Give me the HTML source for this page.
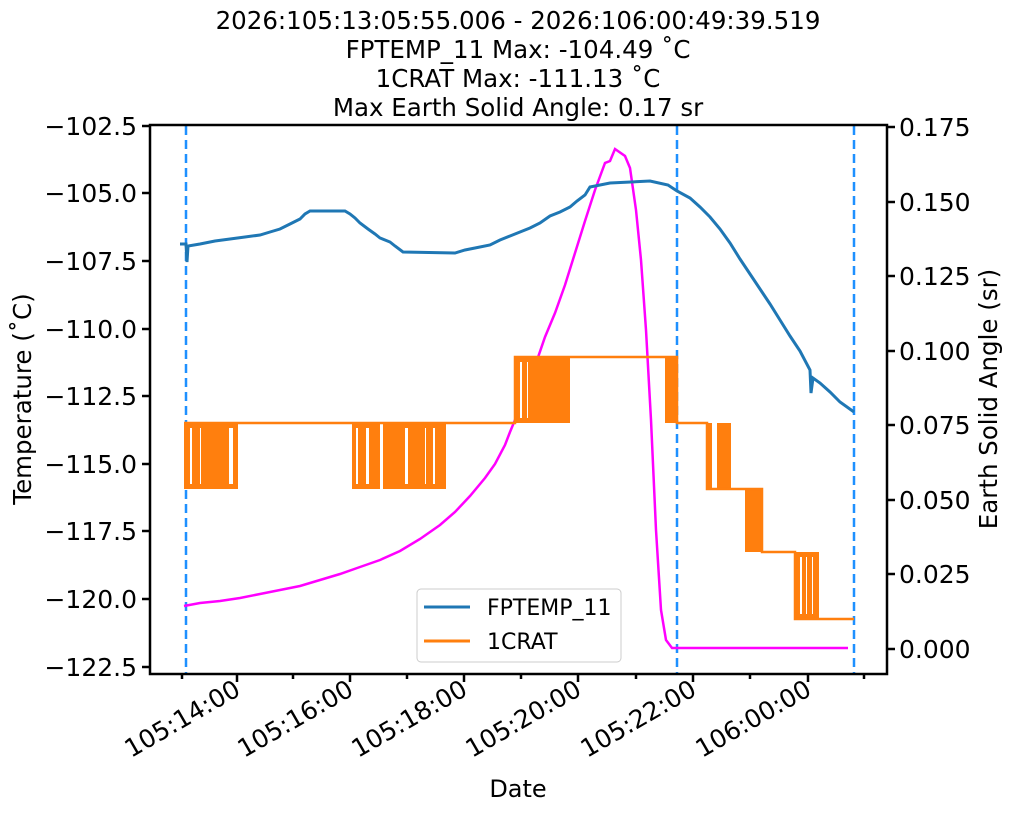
<!DOCTYPE html>
<html><head><meta charset="utf-8"><style>
body{margin:0;background:#fff}
svg text{font-family:"DejaVu Sans","Liberation Sans",sans-serif;fill:#000}
</style></head><body>
<svg width="1011" height="811" viewBox="0 0 1011 811" xmlns="http://www.w3.org/2000/svg">
<g font-size="24.5" text-anchor="middle">
<text x="518" y="29">2026:105:13:05:55.006 - 2026:106:00:49:39.519</text>
<text x="518" y="58">FPTEMP_11 Max: -104.49 ˚C</text>
<text x="518" y="87">1CRAT Max: -111.13 ˚C</text>
<text x="518" y="116">Max Earth Solid Angle: 0.17 sr</text>
</g>
<g stroke="#1e90ff" stroke-width="2.5" stroke-dasharray="9,5">
<line x1="186" y1="126" x2="186" y2="674"/>
<line x1="677" y1="126" x2="677" y2="674"/>
<line x1="854" y1="126" x2="854" y2="674"/>
</g>
<polyline fill="none" stroke="#ff00ff" stroke-width="2.5" points="184,606 200,603 220,601 240,598 260,594 280,590 300,586 320,580 340,574 360,567 380,560 400,551 420,539 440,525 455,512 470,496 485,478 495,464 505,445 510,432 515,420 520,403 528,383 535,366 545,337 555,313 565,285 575,253 585,221 595,190 605,163 610,161 615,149 625,156 630,168 636,210 641,260 646,330 651,420 656,530 661,610 666,640 672,648 848,648"/>
<polyline fill="none" stroke="#1f77b4" stroke-width="3" points="180,244 186,244 187,262 188,246 200,244 215,241 230,239 245,237 260,235 270,232 280,229 290,224 300,219 305,214 310,211 345,211 350,214 355,218 360,223 368,229 375,234 380,238 390,242 395,246 403,252 455,253 465,250 475,248 490,245 500,240 510,236 520,232 530,228 540,223 550,216 560,212 570,207 577,201 585,195 590,187 610,183 650,181 668,185 677,191 690,198 700,207 710,217 720,229 730,243 740,259 750,274 760,289 770,304 780,320 790,336 800,351 810,370 811,393 813,378 820,383 830,392 840,402 854,412"/>
<g fill="#ff7f0e">
<rect x="184" y="423" width="54" height="66"/>
<rect x="352" y="423" width="28" height="66"/>
<rect x="383" y="423" width="63" height="66"/>
<rect x="515" y="357" width="55" height="66"/>
<rect x="665" y="357" width="12" height="66"/>
<rect x="707" y="423" width="5" height="66"/>
<rect x="717" y="423" width="14" height="66"/>
<rect x="745" y="489" width="17" height="63"/>
<rect x="795" y="552" width="24" height="67"/>
</g>
<g fill="#fff">
<rect x="190" y="428" width="2" height="56"/><rect x="200" y="428" width="1" height="56"/><rect x="229" y="428" width="4" height="56"/>
<rect x="356" y="428" width="2" height="56"/><rect x="366" y="428" width="3" height="56"/><rect x="405" y="428" width="3" height="56"/><rect x="425" y="428" width="1" height="56"/><rect x="433" y="428" width="2" height="56"/>
<rect x="520" y="362" width="2" height="56"/><rect x="527" y="362" width="1" height="56"/>
<rect x="800" y="557" width="2" height="57"/><rect x="806" y="557" width="1" height="57"/><rect x="812" y="557" width="1" height="57"/>
</g>
<polyline fill="none" stroke="#ff7f0e" stroke-width="2.5" points="184,423 515,423 515,357 677,357 677,423 707,423 707,489 762,489 762,552 795,552 795,619 854,619"/>
<rect x="150" y="125" width="737" height="549" fill="none" stroke="#000" stroke-width="2.5"/>
<g stroke="#000" stroke-width="2.5">
<line x1="142" y1="126" x2="150" y2="126"/><line x1="142" y1="193" x2="150" y2="193"/><line x1="142" y1="261" x2="150" y2="261"/><line x1="142" y1="329" x2="150" y2="329"/><line x1="142" y1="396" x2="150" y2="396"/><line x1="142" y1="464" x2="150" y2="464"/><line x1="142" y1="531" x2="150" y2="531"/><line x1="142" y1="599" x2="150" y2="599"/><line x1="142" y1="667" x2="150" y2="667"/>
<line x1="887" y1="127" x2="895" y2="127"/><line x1="887" y1="202" x2="895" y2="202"/><line x1="887" y1="276" x2="895" y2="276"/><line x1="887" y1="351" x2="895" y2="351"/><line x1="887" y1="425" x2="895" y2="425"/><line x1="887" y1="500" x2="895" y2="500"/><line x1="887" y1="574" x2="895" y2="574"/><line x1="887" y1="649" x2="895" y2="649"/>
<line x1="237" y1="674" x2="237" y2="682"/><line x1="350" y1="674" x2="350" y2="682"/><line x1="464" y1="674" x2="464" y2="682"/><line x1="578" y1="674" x2="578" y2="682"/><line x1="693" y1="674" x2="693" y2="682"/><line x1="808" y1="674" x2="808" y2="682"/>
<line x1="182" y1="674" x2="182" y2="679"/><line x1="293" y1="674" x2="293" y2="679"/><line x1="407" y1="674" x2="407" y2="679"/><line x1="521" y1="674" x2="521" y2="679"/><line x1="636" y1="674" x2="636" y2="679"/><line x1="750" y1="674" x2="750" y2="679"/><line x1="864" y1="674" x2="864" y2="679"/>
</g>
<g font-size="25" text-anchor="end">
<text x="137" y="135">−102.5</text><text x="137" y="202">−105.0</text><text x="137" y="270">−107.5</text><text x="137" y="338">−110.0</text><text x="137" y="405">−112.5</text><text x="137" y="473">−115.0</text><text x="137" y="540">−117.5</text><text x="137" y="608">−120.0</text><text x="137" y="676">−122.5</text>
</g>
<g font-size="25">
<text x="899" y="136">0.175</text><text x="899" y="211">0.150</text><text x="899" y="285">0.125</text><text x="899" y="360">0.100</text><text x="899" y="434">0.075</text><text x="899" y="509">0.050</text><text x="899" y="583">0.025</text><text x="899" y="658">0.000</text>
</g>
<g font-size="25" text-anchor="end">
<text transform="translate(242,694) rotate(-30)">105:14:00</text>
<text transform="translate(355,694) rotate(-30)">105:16:00</text>
<text transform="translate(469,694) rotate(-30)">105:18:00</text>
<text transform="translate(583,694) rotate(-30)">105:20:00</text>
<text transform="translate(698,694) rotate(-30)">105:22:00</text>
<text transform="translate(813,694) rotate(-30)">106:00:00</text>
</g>
<text x="518" y="797" font-size="24" text-anchor="middle">Date</text>
<text transform="translate(31,399) rotate(-90)" font-size="24.5" text-anchor="middle">Temperature (˚C)</text>
<text transform="translate(997,399) rotate(-90)" font-size="24.5" text-anchor="middle">Earth Solid Angle (sr)</text>
<rect x="417" y="589" width="204" height="73" rx="4" fill="#fff" fill-opacity="0.8" stroke="#ccc"/>
<line x1="424" y1="607" x2="470" y2="607" stroke="#1f77b4" stroke-width="3"/>
<line x1="424" y1="641" x2="470" y2="641" stroke="#ff7f0e" stroke-width="3"/>
<text x="487" y="615" font-size="22">FPTEMP_11</text>
<text x="487" y="649" font-size="22">1CRAT</text>
</svg>
</body></html>
